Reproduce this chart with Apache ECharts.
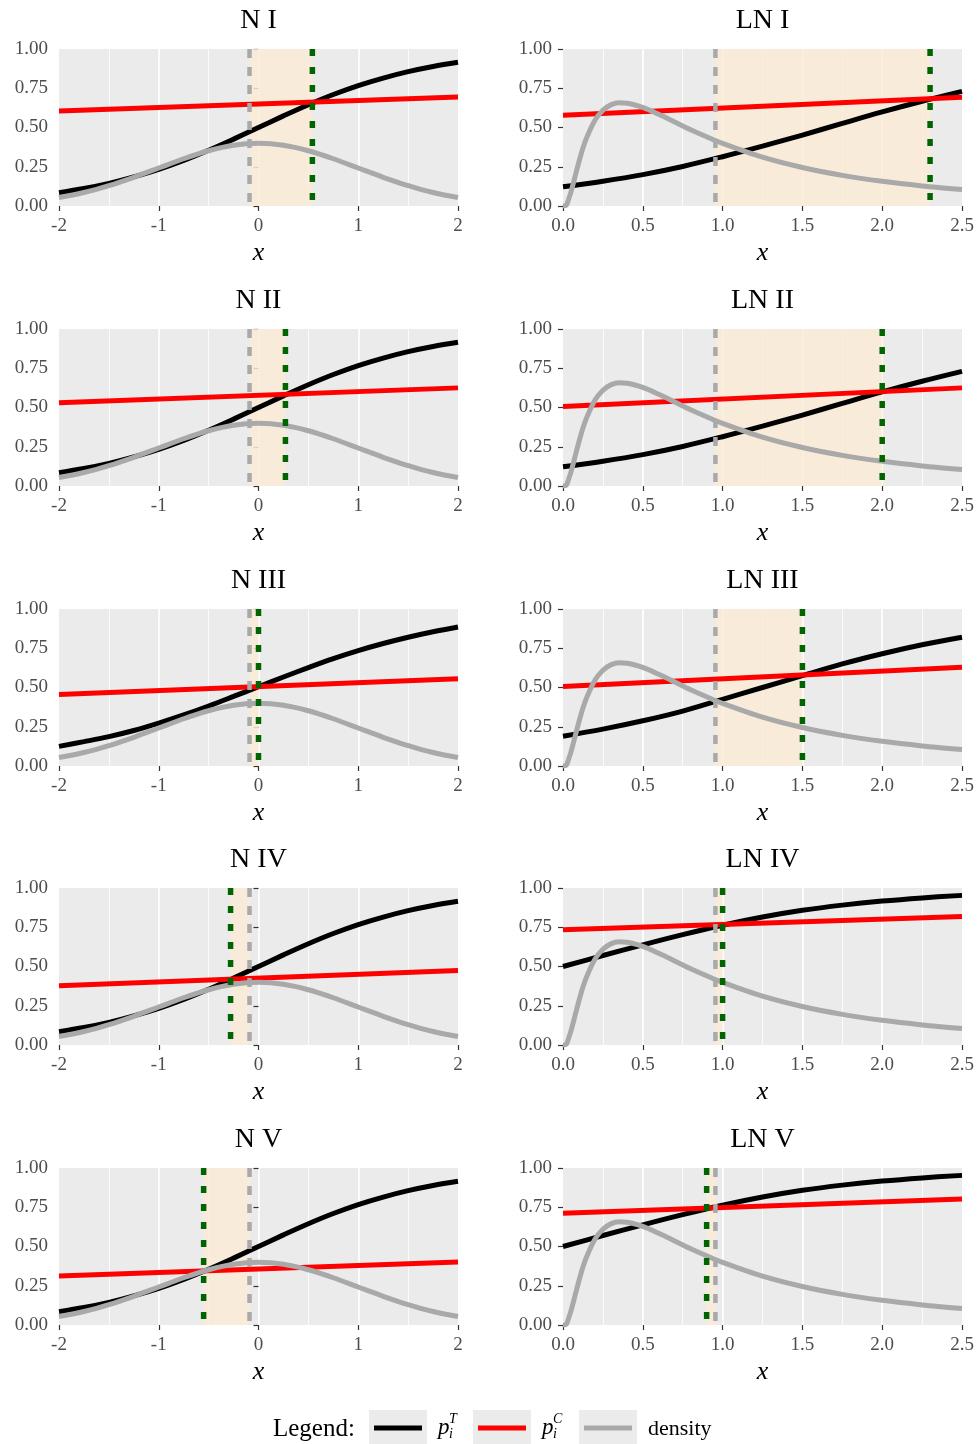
<!DOCTYPE html>
<html>
<head>
<meta charset="utf-8">
<script src="https://cdn.jsdelivr.net/npm/echarts@6/dist/echarts.min.js"></script>
<style>
  html, body { margin: 0; padding: 0; background: #ffffff; }
  #chart { width: 978px; height: 1444px; }
</style>
</head>
<body>
<div id="chart"></div>
<script>
// ---- Normal scenarios (x from -2 to 2) ----
const titlesN = ['N I', 'N II', 'N III', 'N IV', 'N V'];
const xN = [-2, -1.75, -1.5, -1.25, -1, -0.75, -0.5, -0.25, 0, 0.25, 0.5, 0.75, 1, 1.25, 1.5, 1.75, 2];
const densityN = [0.054, 0.086, 0.130, 0.183, 0.242, 0.301, 0.352, 0.387, 0.399, 0.387, 0.352, 0.301, 0.242, 0.183, 0.130, 0.086, 0.054];
const pTN = [0.085, 0.111, 0.144, 0.185, 0.233, 0.290, 0.355, 0.426, 0.500, 0.574, 0.645, 0.710, 0.767, 0.815, 0.856, 0.889, 0.915];
const pTN3 = [0.125, 0.155, 0.187, 0.226, 0.273, 0.325, 0.382, 0.443, 0.505, 0.567, 0.627, 0.684, 0.735, 0.780, 0.820, 0.855, 0.885];
const pTNByPanel = [pTN, pTN, pTN3, pTN, pTN];
// p^C is linear: value at x = -2 and at x = 2
const xEndsN = [-2, 2];
const pCN = [[0.605, 0.695], [0.530, 0.625], [0.455, 0.555], [0.377, 0.475], [0.312, 0.402]];
const refN = [-0.09, -0.09, -0.09, -0.09, -0.09];
const crossN = [0.54, 0.27, 0.0, -0.28, -0.55];

// ---- Log-normal scenarios (x from 0 to 2.5) ----
const titlesLN = ['LN I', 'LN II', 'LN III', 'LN IV', 'LN V'];
const xLNdens = [0, 0.02, 0.035, 0.05, 0.075, 0.1, 0.125, 0.15, 0.2, 0.25, 0.3, 0.35, 0.4, 0.5, 0.6, 0.7, 0.8, 0.9, 1.0, 1.25, 1.5, 1.75, 2.0, 2.25, 2.5];
const densityLN = [0, 0.004, 0.043, 0.090, 0.186, 0.282, 0.369, 0.440, 0.546, 0.610, 0.644, 0.657, 0.655, 0.628, 0.584, 0.535, 0.486, 0.441, 0.399, 0.311, 0.245, 0.195, 0.157, 0.128, 0.105];
const xLN = [0, 0.25, 0.5, 0.75, 1.0, 1.25, 1.5, 1.75, 2.0, 2.25, 2.5];
const pTLN1 = [0.123, 0.158, 0.200, 0.252, 0.314, 0.381, 0.452, 0.526, 0.599, 0.667, 0.730];
const pTLN3 = [0.190, 0.235, 0.288, 0.350, 0.425, 0.500, 0.575, 0.650, 0.715, 0.772, 0.820];
const pTLN4 = [0.500, 0.570, 0.638, 0.703, 0.763, 0.815, 0.858, 0.891, 0.917, 0.937, 0.953];
const pTLNByPanel = [pTLN1, pTLN1, pTLN3, pTLN4, pTLN4];
const xEndsLN = [0, 2.5];
const pCLN = [[0.578, 0.693], [0.506, 0.625], [0.506, 0.629], [0.734, 0.818], [0.712, 0.802]];
const refLN = [0.955, 0.955, 0.955, 0.955, 0.955];
const crossLN = [2.30, 2.00, 1.50, 1.00, 0.90];

// ---- Legend entries ----
const legendLabels = [['p', 'i', 'T'], ['p', 'i', 'C'], ['density']];

// ---- Styling ----
const FONT = 'Liberation Serif';
const COL_T = '#000000';
const COL_C = '#FF0000';
const COL_D = '#A9A9A9';
const COL_CROSS = '#006400';
const COL_SHADE = 'rgba(250, 235, 215, 0.85)';
const PANEL_BG = '#EBEBEB';
const colLeft = [59, 563];
const rowTop = [49, 329, 609, 888, 1168];
const PW = 399, PH = 157;

const grids = [], xAxes = [], yAxes = [], series = [], titles = [];

function pairs(xs, ys) { return xs.map((x, i) => [x, ys[i]]); }

function addPanel(col, row, cfg) {
  const idx = grids.length;
  const left = colLeft[col], top = rowTop[row];
  grids.push({
    left: left, top: top, width: PW, height: PH,
    show: true, backgroundColor: PANEL_BG, borderWidth: 0
  });
  titles.push({
    text: cfg.title, left: left + PW / 2, top: top - 28, padding: 0,
    textAlign: 'center', textVerticalAlign: 'middle',
    textStyle: { fontFamily: FONT, fontSize: 28, fontWeight: 'normal', color: '#000' }
  });
  xAxes.push({
    type: 'value', gridIndex: idx, min: cfg.xmin, max: cfg.xmax, interval: cfg.xint,
    axisLine: { show: false },
    axisTick: { show: true, length: 5, lineStyle: { color: '#333333', width: 1.2 } },
    axisLabel: { margin: 11, color: '#4D4D4D', fontFamily: FONT, fontSize: 19, formatter: cfg.xfmt },
    splitLine: { show: true, showMinLine: false, showMaxLine: false, lineStyle: { color: '#FFFFFF', width: 1.7 } },
    minorTick: { show: false, splitNumber: 2 },
    minorSplitLine: { show: true, lineStyle: { color: '#FFFFFF', width: 0.8 } },
    name: 'x', nameLocation: 'middle', nameGap: 34,
    nameTextStyle: { fontFamily: FONT, fontStyle: 'italic', fontSize: 26, color: '#000' }
  });
  yAxes.push({
    type: 'value', gridIndex: idx, min: 0, max: 1, interval: 0.25,
    axisLine: { show: false },
    axisTick: { show: true, length: 5, lineStyle: { color: '#333333', width: 1.2 } },
    axisLabel: { margin: 11, color: '#4D4D4D', fontFamily: FONT, fontSize: 19,
                 padding: [5, 0, 0, 0], formatter: v => v.toFixed(2) },
    splitLine: { show: false }
  });
  const lo = Math.min(cfg.ref, cfg.cross), hi = Math.max(cfg.ref, cfg.cross);
  series.push({
    type: 'line', xAxisIndex: idx, yAxisIndex: idx, z: 2,
    data: pairs(cfg.xT, cfg.pT), smooth: 0.35, showSymbol: false,
    lineStyle: { color: COL_T, width: 5 },
    markArea: { silent: true, itemStyle: { color: COL_SHADE },
                data: [[{ xAxis: lo }, { xAxis: hi }]] }
  });
  series.push({
    type: 'line', xAxisIndex: idx, yAxisIndex: idx, z: 2,
    data: pairs(cfg.xEnds, cfg.pC), showSymbol: false,
    lineStyle: { color: COL_C, width: 5 }
  });
  series.push({
    type: 'line', xAxisIndex: idx, yAxisIndex: idx, z: 2,
    data: pairs(cfg.xD, cfg.dens), smooth: 0.3, showSymbol: false,
    lineStyle: { color: COL_D, width: 5 }
  });
  // vertical reference (grey) and crossing point (green)
  series.push({
    type: 'line', xAxisIndex: idx, yAxisIndex: idx, z: 3,
    data: [[cfg.ref, 1], [cfg.ref, 0]], showSymbol: false,
    lineStyle: { color: COL_D, width: 4.5, type: [9, 9] }
  });
  series.push({
    type: 'line', xAxisIndex: idx, yAxisIndex: idx, z: 3,
    data: [[cfg.cross, 1], [cfg.cross, 0]], showSymbol: false,
    lineStyle: { color: COL_CROSS, width: 5.5, type: [7, 11] }
  });
}

for (let r = 0; r < 5; r++) {
  addPanel(0, r, {
    title: titlesN[r], xmin: -2, xmax: 2, xint: 1, xfmt: v => String(v),
    xT: xN, pT: pTNByPanel[r], xEnds: xEndsN, pC: pCN[r],
    xD: xN, dens: densityN, ref: refN[r], cross: crossN[r]
  });
  addPanel(1, r, {
    title: titlesLN[r], xmin: 0, xmax: 2.5, xint: 0.5, xfmt: v => v.toFixed(1),
    xT: xLN, pT: pTLNByPanel[r], xEnds: xEndsLN, pC: pCLN[r],
    xD: xLNdens, dens: densityLN, ref: refLN[r], cross: crossLN[r]
  });
}

// ---- Legend drawn at the bottom ----
const LY = 1428;
const keyColors = [COL_T, COL_C, COL_D];
const keyX = [369, 473, 579];
const graphic = [{
  type: 'text', x: 273, y: LY + 1,
  style: { text: 'Legend:', fontFamily: FONT, fontSize: 25, fill: '#000', verticalAlign: 'middle' }
}];
keyX.forEach((kx, i) => {
  graphic.push({ type: 'rect', shape: { x: kx, y: 1410, width: 58, height: 35 }, style: { fill: PANEL_BG } });
  graphic.push({ type: 'line', shape: { x1: kx + 5, y1: LY, x2: kx + 53, y2: LY },
                 style: { stroke: keyColors[i], lineWidth: 5 } });
  const lbl = legendLabels[i];
  const tx = kx + 69;
  if (lbl.length === 3) {
    graphic.push({ type: 'text', x: tx, y: LY,
      style: { text: lbl[0], fontFamily: FONT, fontStyle: 'italic', fontSize: 23, fill: '#000', verticalAlign: 'middle' } });
    graphic.push({ type: 'text', x: tx + 11, y: LY + 6,
      style: { text: lbl[1], fontFamily: FONT, fontStyle: 'italic', fontSize: 14, fill: '#000', verticalAlign: 'middle' } });
    graphic.push({ type: 'text', x: tx + 11, y: LY - 9,
      style: { text: lbl[2], fontFamily: FONT, fontStyle: 'italic', fontSize: 14, fill: '#000', verticalAlign: 'middle' } });
  } else {
    graphic.push({ type: 'text', x: tx, y: LY + 1,
      style: { text: lbl[0], fontFamily: FONT, fontSize: 22, fill: '#000', verticalAlign: 'middle' } });
  }
});

const chart = echarts.init(document.getElementById('chart'), null, { renderer: 'canvas' });
chart.setOption({
  animation: false,
  backgroundColor: '#FFFFFF',
  title: titles,
  grid: grids,
  xAxis: xAxes,
  yAxis: yAxes,
  series: series,
  graphic: graphic
});
</script>
</body>
</html>
